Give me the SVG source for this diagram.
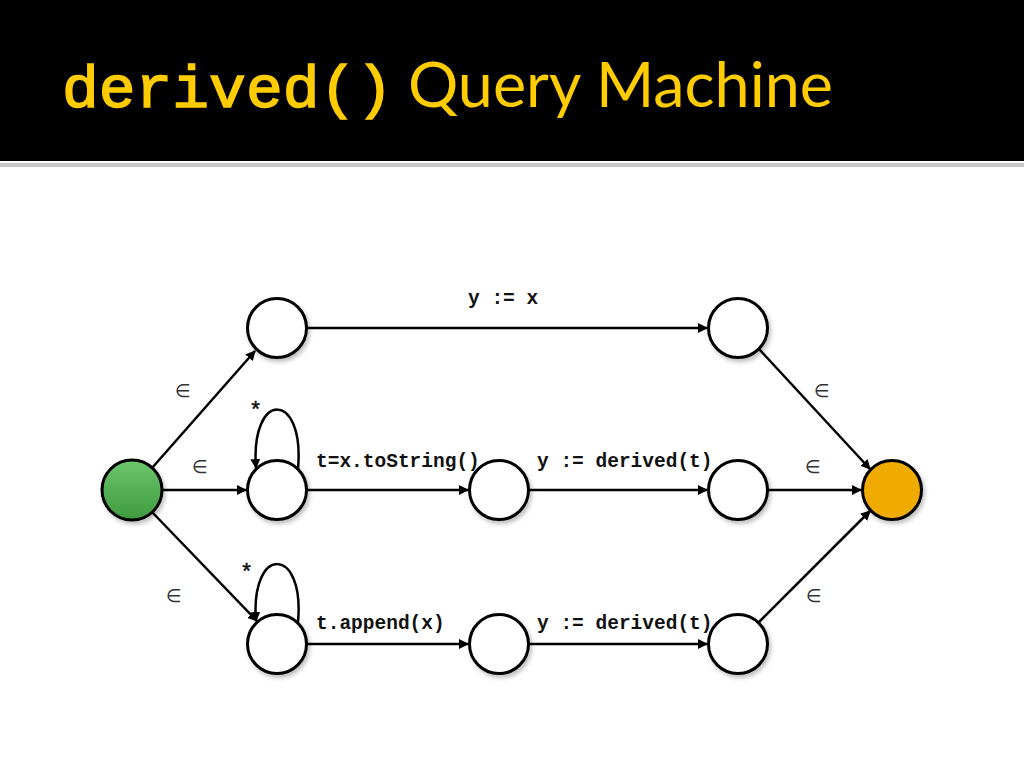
<svg xmlns="http://www.w3.org/2000/svg" width="1024" height="768" viewBox="0 0 1024 768">
<style>
.node{stroke:#000;stroke-width:3;fill:#fff;filter:url(#sh)}
.edge{stroke:#000;stroke-width:2.5;fill:none;marker-end:url(#arr)}
.lbl{font-family:"Liberation Mono","Courier New",monospace;font-weight:bold;font-size:19.5px;fill:#111}
.eps{font-family:"DejaVu Sans",sans-serif;font-size:18px;fill:#333}
.star{font-family:"Liberation Mono",monospace;font-size:22px;fill:#111;stroke:#111;stroke-width:0.5}
</style>
<defs>
<marker id="arr" viewBox="0 0 10 10" refX="9" refY="5" markerWidth="4" markerHeight="4" orient="auto" markerUnits="strokeWidth">
<path d="M0,0 L10,5 L0,10 z" fill="#000"/>
</marker>
<filter id="sh" x="-30%" y="-30%" width="160%" height="160%">
<feDropShadow dx="2" dy="3" stdDeviation="2" flood-color="#000" flood-opacity="0.25"/>
</filter>
<linearGradient id="green" x1="0" y1="0" x2="0" y2="1">
<stop offset="0" stop-color="#6cc66c"/>
<stop offset="1" stop-color="#3f9a3f"/>
</linearGradient>
</defs>
<rect x="0" y="0" width="1024" height="161" fill="#000"/>
<rect x="0" y="163" width="1024" height="4" fill="#c8c8c8"/>
<text x="62" y="107" font-family="Liberation Mono,'Courier New',monospace" font-size="60" fill="#ffcc00" stroke="#ffcc00" stroke-width="1.5" textLength="331" lengthAdjust="spacingAndGlyphs">derived()</text>
<text x="408" y="107" font-family="Lato,'Liberation Sans',sans-serif" font-size="62" fill="#ffcc00" textLength="425" lengthAdjust="spacingAndGlyphs">Query Machine</text>
<g id="connectors">
<line class="edge" x1="152" y1="468" x2="255" y2="351"/>
<line class="edge" x1="162" y1="490" x2="246" y2="490"/>
<line class="edge" x1="152" y1="512" x2="257" y2="621"/>
<line class="edge" x1="307" y1="328" x2="707" y2="328"/>
<line class="edge" x1="307" y1="490" x2="468" y2="490"/>
<line class="edge" x1="529" y1="490" x2="707" y2="490"/>
<line class="edge" x1="768" y1="490" x2="861" y2="490"/>
<line class="edge" x1="759" y1="349" x2="870" y2="469"/>
<line class="edge" x1="759" y1="622" x2="870" y2="511"/>
<line class="edge" x1="307" y1="644" x2="468" y2="644"/>
<line class="edge" x1="529" y1="644" x2="707" y2="644"/>
<path class="edge" d="M298,469 C305,390 250,390 256,468"/>
<path class="edge" d="M298,622 C305,545 250,545 256,621"/>
</g>
<g id="labels">
<text class="lbl" x="468" y="304">y := x</text>
<text class="lbl" x="316" y="467">t=x.toString()</text>
<text class="lbl" x="537" y="467">y := derived(t)</text>
<text class="lbl" x="316" y="629">t.append(x)</text>
<text class="lbl" x="537" y="629">y := derived(t)</text>
<text class="star" x="249" y="417">*</text>
<text class="star" x="240" y="579">*</text>
<text class="eps" x="175" y="397">∈</text>
<text class="eps" x="192" y="473">∈</text>
<text class="eps" x="166" y="602">∈</text>
<text class="eps" x="814" y="397">∈</text>
<text class="eps" x="805" y="473">∈</text>
<text class="eps" x="806" y="602">∈</text>
</g>
<g id="n_start"><circle cx="132" cy="490" r="30" class="node" style="fill:url(#green)"/></g>
<g id="n_top1"><circle cx="277" cy="328" r="29.5" class="node"/></g>
<g id="n_top2"><circle cx="738" cy="328" r="29.5" class="node"/></g>
<g id="n_mid1"><circle cx="277" cy="490" r="29.5" class="node"/></g>
<g id="n_mid2"><circle cx="499" cy="490" r="29.5" class="node"/></g>
<g id="n_mid3"><circle cx="738" cy="490" r="29.5" class="node"/></g>
<g id="n_end"><circle cx="892" cy="490" r="29.5" class="node" style="fill:#f0ab00"/></g>
<g id="n_bot1"><circle cx="277" cy="644" r="29.5" class="node"/></g>
<g id="n_bot2"><circle cx="499" cy="644" r="29.5" class="node"/></g>
<g id="n_bot3"><circle cx="738" cy="644" r="29.5" class="node"/></g>
</svg>
